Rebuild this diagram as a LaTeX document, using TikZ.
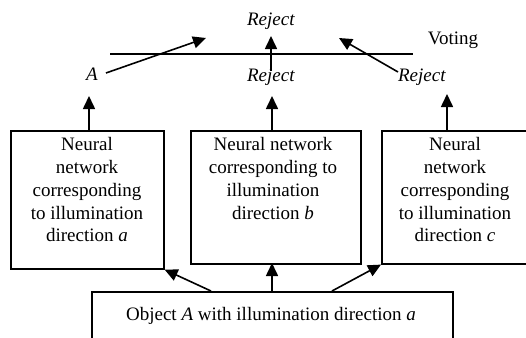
\documentclass[tikz,border=0pt]{standalone}
\usepackage{fontspec}
\setmainfont{Liberation Serif}
\newfontfamily\timesfont{Liberation Serif}
\usetikzlibrary{arrows.meta}
\begin{document}
\begin{tikzpicture}[x=1pt,y=-1pt, line width=1.6pt,
  box/.style={draw, rectangle, inner sep=0pt, anchor=north west},
  txt/.style={font=\timesfont\fontsize{19}{22.7}\selectfont, align=center, inner sep=0pt},
  arr/.style={-{Triangle[length=13pt,width=12pt]}}]
\useasboundingbox (0,0) rectangle (526,337);
% boxes
\node[box, minimum width=153pt, minimum height=138pt] (boxa) at (10,130) {};
\node[box, minimum width=170pt, minimum height=133pt] (boxb) at (190,130) {};
\node[box, minimum width=153pt, minimum height=133pt] (boxc) at (381,130) {};
\node[box, minimum width=361pt, minimum height=70pt] (obj) at (91,291) {};
% box texts
\node[txt, anchor=north] (ta) at (87,137) {Neural\\network\\corresponding\\to illumination\\direction \textit{a}};
\node[txt, anchor=north] (tb) at (273,137) {Neural network\\corresponding to\\illumination\\direction \textit{b}};
\node[txt, anchor=north] (tc) at (455,137) {Neural\\network\\corresponding\\to illumination\\direction \textit{c}};
\node[txt, anchor=base] (to) at (271,320) {Object \textit{A} with illumination direction \textit{a}};
% labels
\node[txt, anchor=base] (labA) at (92,80) {\textit{A}};
\node[txt, anchor=base] (rejm) at (271,81) {\textit{Reject}};
\node[txt, anchor=base] (rejr) at (422,81) {\textit{Reject}};
\node[txt, anchor=base] (rejt) at (271,26) {\textit{Reject}};
\node[txt, anchor=base] (vote) at (453,45) {Voting};
% voting line
\coordinate (vl) at (110,54);
\coordinate (vr) at (413,54);
\draw (vl) -- (vr);
% arrows to voting
\coordinate (sA) at (106,73);
\coordinate (tA) at (206,38);
\coordinate (sM) at (271,71);
\coordinate (tM) at (271,36);
\coordinate (sR) at (398,72);
\coordinate (tR) at (339,38);
\draw[arr] (sA) -- (tA);
\draw[arr] (sM) -- (tM);
\draw[arr] (sR) -- (tR);
% box outputs
\coordinate (oa) at (89,96);
\coordinate (ob) at (272,96);
\coordinate (oc) at (447,94);
\draw[arr] (89,130) -- (oa);
\draw[arr] (272,130) -- (ob);
\draw[arr] (447,130) -- (oc);
% inputs from object box
\coordinate (i1) at (211,291);
\coordinate (i2) at (272,291);
\coordinate (i3) at (332,291);
\draw[arr] (i1) -- (boxa.south east);
\draw[arr] (i2) -- (272,263);
\draw[arr] (i3) -- (boxc.south west);
\end{tikzpicture}
\end{document}
